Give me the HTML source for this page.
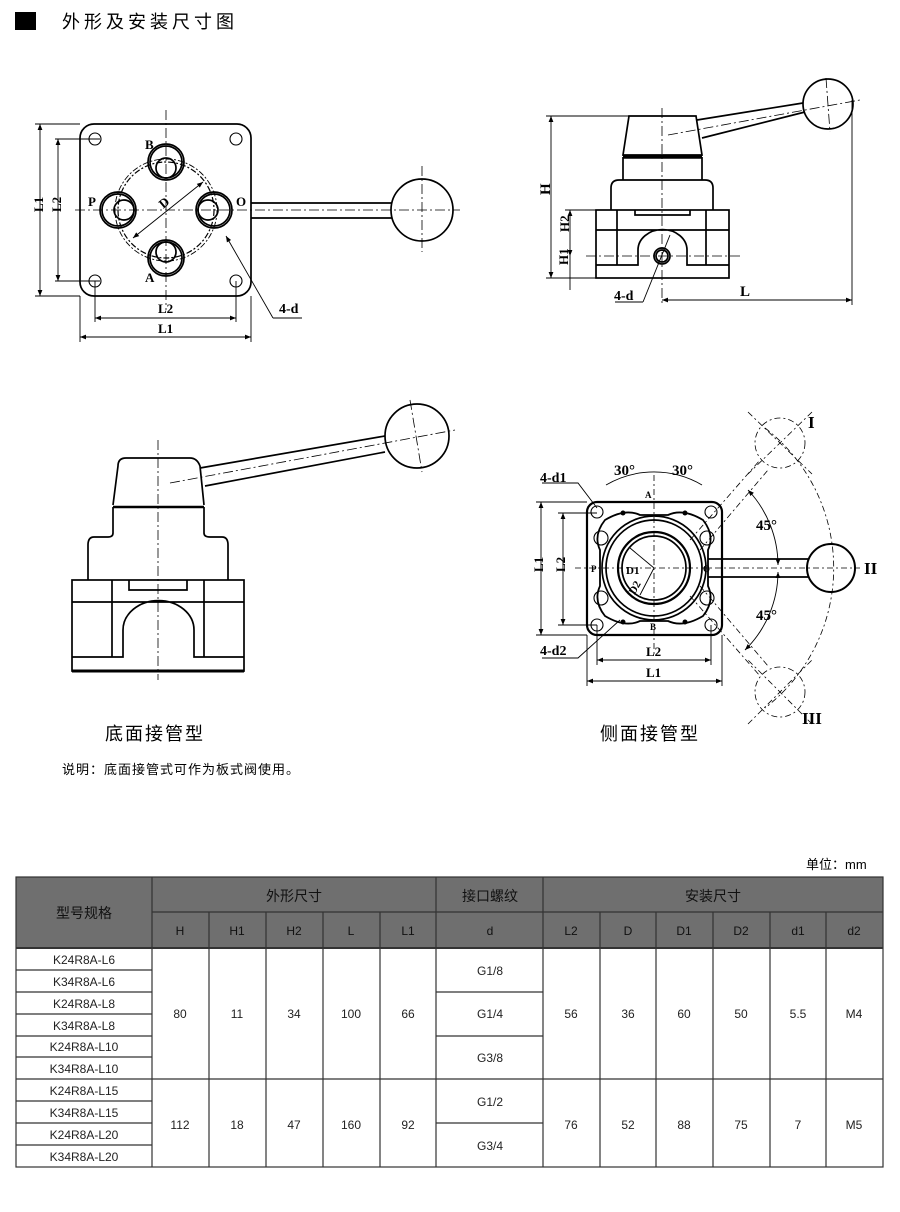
<!DOCTYPE html>
<html><head><meta charset="utf-8"><style>
body{margin:0;background:#fff;width:900px;height:1212px;overflow:hidden;font-family:"Liberation Sans","Noto Sans CJK SC",sans-serif}
svg{position:absolute;left:0;top:0}
</style></head><body>
<svg width="900" height="1212" viewBox="0 0 900 1212" xmlns="http://www.w3.org/2000/svg" font-family="Liberation Serif, Noto Serif CJK SC, serif">
<defs>
<marker id="a" viewBox="0 0 10 10" refX="10" refY="5" markerWidth="8" markerHeight="6" orient="auto-start-reverse" markerUnits="userSpaceOnUse"><path d="M0 1 L10 5 L0 9 Z" fill="#000"/></marker>
</defs>
<rect x="15" y="12" width="21" height="18" fill="#000"/>
<text x="62" y="28" font-family="Liberation Sans, Noto Sans CJK SC, sans-serif" font-size="18" letter-spacing="4">外形及安装尺寸图</text>

<g fill="none" stroke="#000" stroke-width="1.7">
<!-- Top-left plan -->
<rect x="80" y="124" width="171" height="172" rx="14"/>
<g stroke-width="1.1"><circle cx="95" cy="139" r="6"/><circle cx="236" cy="139" r="6"/><circle cx="95" cy="281" r="6"/><circle cx="236" cy="281" r="6"/></g>
<circle cx="166" cy="162" r="18"/><circle cx="166" cy="162" r="16"/><circle cx="166" cy="168" r="10"/>
<circle cx="166" cy="258" r="18"/><circle cx="166" cy="258" r="16"/><circle cx="166" cy="252" r="10"/>
<circle cx="118" cy="210" r="18"/><circle cx="118" cy="210" r="16"/><circle cx="124" cy="210" r="10"/>
<circle cx="214" cy="210" r="18"/><circle cx="214" cy="210" r="16"/><circle cx="208" cy="210" r="10"/>
<circle cx="166" cy="210" r="48" stroke-dasharray="6 2 2 2" stroke-width="1.2"/>
<circle cx="166" cy="210" r="51" stroke-dasharray="6 2 2 2" stroke-width="0.9"/>
<line x1="251" y1="203" x2="392" y2="203"/><line x1="251" y1="218" x2="392" y2="218"/>
<circle cx="422" cy="210" r="31"/>
<g stroke-width="0.8" stroke-dasharray="10 3 2 3"><line x1="75" y1="210" x2="460" y2="210"/><line x1="166" y1="110" x2="166" y2="310"/><line x1="422" y1="166" x2="422" y2="252"/></g>
<g stroke-width="0.9"><line x1="133" y1="238" x2="203" y2="182" marker-start="url(#a)" marker-end="url(#a)"/>
<line x1="35" y1="124" x2="80" y2="124"/><line x1="35" y1="296" x2="80" y2="296"/><line x1="40" y1="124" x2="40" y2="296" marker-start="url(#a)" marker-end="url(#a)"/>
<line x1="55" y1="139" x2="100" y2="139"/><line x1="55" y1="281" x2="100" y2="281"/><line x1="58" y1="139" x2="58" y2="281" marker-start="url(#a)" marker-end="url(#a)"/>
<line x1="95" y1="281" x2="95" y2="322"/><line x1="236" y1="281" x2="236" y2="322"/><line x1="95" y1="318" x2="236" y2="318" marker-start="url(#a)" marker-end="url(#a)"/>
<line x1="80" y1="296" x2="80" y2="342"/><line x1="251" y1="296" x2="251" y2="342"/><line x1="80" y1="337" x2="251" y2="337" marker-start="url(#a)" marker-end="url(#a)"/>
<polyline points="273,318 226,236" marker-end="url(#a)"/><line x1="273" y1="318" x2="302" y2="318"/></g>

<!-- Top-right side -->
<path d="M629 116 H696 L702 155 H623 Z"/>
<line x1="623" y1="157" x2="702" y2="157" stroke-width="3.5"/>
<path d="M623 157 V180 M702 157 V180"/>
<path d="M611 210 V188 Q611 180 619 180 H705 Q713 180 713 188 V210"/>
<rect x="596" y="210" width="133" height="68"/>
<path d="M596 230 H729 M617 210 V265 M706 210 V265 M596 265 H638 V250 A24 20 0 0 1 687 250 V265 H729"/>
<path d="M635 210 V215 H690 V210"/>
<circle cx="662" cy="256" r="8"/><circle cx="662" cy="256" r="6"/>
<path d="M697 120 L803 103 M702 138 L805 112"/>
<circle cx="828" cy="104" r="25"/>
<g stroke-width="0.8" stroke-dasharray="10 3 2 3"><line x1="662" y1="108" x2="662" y2="305"/><line x1="586" y1="256" x2="740" y2="256"/><line x1="668" y1="135" x2="860" y2="100"/><line x1="826" y1="78" x2="830" y2="132"/></g>
<g stroke-width="0.9"><line x1="546" y1="116" x2="629" y2="116"/><line x1="551" y1="116" x2="551" y2="278" marker-start="url(#a)" marker-end="url(#a)"/><line x1="546" y1="278" x2="596" y2="278"/>
<line x1="565" y1="210" x2="596" y2="210"/><line x1="570" y1="210" x2="570" y2="256" marker-start="url(#a)" marker-end="url(#a)"/><line x1="570" y1="256" x2="570" y2="290"/>
<line x1="662" y1="300" x2="852" y2="300" marker-start="url(#a)" marker-end="url(#a)"/><line x1="852" y1="100" x2="852" y2="305"/>
<polyline points="643,302 670,235"/><line x1="643" y1="302" x2="615" y2="302"/></g>

<!-- Bottom-left -->
<path d="M113 505 L118 466 Q118 458 126 458 H190 Q197 458 200 466 L204 505"/>
<line x1="113" y1="507" x2="204" y2="507" stroke-width="2.5"/>
<path d="M113 507 V533 Q113 537 108 537 H94 Q88 537 88 545 V580 M204 507 V533 Q204 537 210 537 H222 Q228 537 228 545 V580"/>
<rect x="72" y="580" width="172" height="91"/>
<path d="M72 602 H244 M112 580 V657 M204 580 V657 M72 657 H123 V630 A35 29 0 0 1 194 630 V657 H244 M129 580 V590 H187 V580"/>
<line x1="72" y1="671" x2="244" y2="671" stroke-width="3"/>
<path d="M200 468 L385 436 M205 486 L385 452"/>
<circle cx="417" cy="436" r="32"/>
<g stroke-width="0.8" stroke-dasharray="10 3 2 3"><line x1="158" y1="440" x2="158" y2="680"/><line x1="170" y1="483" x2="455" y2="430"/><line x1="410" y1="400" x2="422" y2="472"/></g>

<!-- Bottom-right -->
<rect x="587" y="502" width="135" height="133" rx="10" stroke-width="2.2"/>
<path d="M605 520 Q625 508 640 515 H668 Q683 508 703 520 Q715 535 708 550 V586 Q715 601 703 616 Q683 628 668 621 H640 Q625 628 605 616 Q593 601 600 586 V550 Q593 535 605 520 Z" stroke-width="1.8"/>
<circle cx="654" cy="568" r="52"/><circle cx="654" cy="568" r="48"/>
<circle cx="654" cy="568" r="36" stroke-width="2.2"/><circle cx="654" cy="568" r="32"/>
<g stroke-width="1.1"><circle cx="597" cy="512" r="6"/><circle cx="711" cy="512" r="6"/><circle cx="597" cy="625" r="6"/><circle cx="711" cy="625" r="6"/>
<circle cx="601" cy="538" r="7"/><circle cx="707" cy="538" r="7"/><circle cx="601" cy="598" r="7"/><circle cx="707" cy="598" r="7"/></g>
<g fill="#000" stroke="none"><circle cx="623" cy="513" r="2.5"/><circle cx="685" cy="513" r="2.5"/><circle cx="623" cy="622" r="2.5"/><circle cx="685" cy="622" r="2.5"/></g>
<path d="M708 559 H808 M708 577 H808"/>
<circle cx="831" cy="568" r="24" stroke-width="2"/>
<g stroke-width="0.8" stroke-dasharray="6 3 2 3">
<circle cx="780" cy="443" r="25"/><circle cx="780" cy="692" r="25"/>
<path d="M765 428 A177 177 0 0 1 765 708"/>
<line x1="690" y1="540" x2="760" y2="460"/><line x1="700" y1="550" x2="768" y2="470"/>
<line x1="690" y1="596" x2="760" y2="676"/><line x1="700" y1="586" x2="768" y2="666"/>
<line x1="575" y1="568" x2="860" y2="568"/><line x1="654" y1="475" x2="654" y2="655"/>
<line x1="748" y1="412" x2="812" y2="474"/><line x1="812" y1="412" x2="748" y2="474"/>
<line x1="748" y1="724" x2="812" y2="660"/><line x1="812" y1="724" x2="748" y2="660"/>
</g>
<g stroke-width="0.9"><path d="M606 485 A95 95 0 0 1 702 485"/>
<line x1="536" y1="502" x2="587" y2="502"/><line x1="536" y1="635" x2="587" y2="635"/><line x1="541" y1="502" x2="541" y2="635" marker-start="url(#a)" marker-end="url(#a)"/>
<line x1="558" y1="513" x2="597" y2="513"/><line x1="558" y1="625" x2="597" y2="625"/><line x1="563" y1="513" x2="563" y2="625" marker-start="url(#a)" marker-end="url(#a)"/>
<line x1="597" y1="625" x2="597" y2="665"/><line x1="711" y1="625" x2="711" y2="665"/><line x1="597" y1="660" x2="711" y2="660" marker-start="url(#a)" marker-end="url(#a)"/>
<line x1="587" y1="635" x2="587" y2="686"/><line x1="722" y1="635" x2="722" y2="686"/><line x1="587" y1="681" x2="722" y2="681" marker-start="url(#a)" marker-end="url(#a)"/>
<polyline points="542,483 578,483 597,508"/><polyline points="542,658 578,658 620,620"/>
<path d="M748 490 A110 110 0 0 1 778 565" marker-start="url(#a)" marker-end="url(#a)"/><path d="M778 572 A110 110 0 0 1 745 650" marker-start="url(#a)" marker-end="url(#a)"/>
<line x1="654" y1="568" x2="630" y2="548"/><line x1="654" y1="568" x2="640" y2="595"/></g>
</g>

<g font-weight="bold" font-size="13" fill="#000">
<text x="145" y="149">B</text><text x="145" y="282">A</text><text x="88" y="206">P</text><text x="236" y="206">O</text>
<text x="160" y="208" transform="rotate(-40 163 204)">D</text>
<text x="279" y="313" font-size="14">4-d</text>
<text x="39" y="216" transform="rotate(-90 39 212)">L1</text><text x="57" y="216" transform="rotate(-90 57 212)">L2</text>
<text x="158" y="313">L2</text><text x="158" y="333">L1</text>
<text x="548" y="203" font-size="15" transform="rotate(-90 545 198)">H</text>
<text x="567" y="240" transform="rotate(-90 564 235)">H2</text><text x="567" y="272" transform="rotate(-90 564 268)">H1</text>
<text x="614" y="300" font-size="14">4-d</text><text x="740" y="296" font-size="15">L</text>
<text x="540" y="482" font-size="14">4-d1</text><text x="540" y="655" font-size="14">4-d2</text>
<text x="614" y="475" font-size="15">30°</text><text x="672" y="475" font-size="15">30°</text>
<text x="756" y="530" font-size="15">45°</text><text x="756" y="620" font-size="15">45°</text>
<text x="808" y="428" font-size="17">I</text><text x="864" y="574" font-size="17">II</text><text x="802" y="724" font-size="17">III</text>
<text x="645" y="498" font-size="9">A</text><text x="650" y="630" font-size="9">B</text><text x="591" y="572" font-size="9">P</text><text x="703" y="572" font-size="9">O</text>
<text x="626" y="574" font-size="11">D1</text><text x="628" y="592" font-size="11" transform="rotate(-60 634 588)">D2</text>
<text x="537" y="578" transform="rotate(-90 537 572)">L1</text><text x="559" y="578" transform="rotate(-90 559 572)">L2</text>
<text x="646" y="656">L2</text><text x="646" y="677">L1</text>
</g>

<g font-family="Liberation Sans, Noto Sans CJK SC, sans-serif" fill="#000">
<text x="105" y="740" font-size="18" letter-spacing="2">底面接管型</text>
<text x="600" y="740" font-size="18" letter-spacing="2">侧面接管型</text>
<text x="62" y="774" font-size="13" letter-spacing="1">说明：底面接管式可作为板式阀使用。</text>
<text x="806" y="869" font-size="13">单位：mm</text>
</g>

<!-- Table -->
<g font-family="Liberation Sans, Noto Sans CJK SC, sans-serif" font-size="12" fill="#222" text-anchor="middle">
<rect x="16" y="877" width="867" height="71" fill="#6f6f6f"/>
<g stroke="#333" stroke-width="1.2" fill="none">
<line x1="152" y1="912" x2="883" y2="912"/>
<rect x="16" y="877" width="867" height="290"/>
<line x1="152" y1="877" x2="152" y2="1167"/><line x1="436" y1="877" x2="436" y2="1167"/><line x1="543" y1="877" x2="543" y2="1167"/>
<line x1="209" y1="912" x2="209" y2="1167"/><line x1="266" y1="912" x2="266" y2="1167"/><line x1="323" y1="912" x2="323" y2="1167"/><line x1="380" y1="912" x2="380" y2="1167"/>
<line x1="600" y1="912" x2="600" y2="1167"/><line x1="656" y1="912" x2="656" y2="1167"/><line x1="713" y1="912" x2="713" y2="1167"/><line x1="770" y1="912" x2="770" y2="1167"/><line x1="826" y1="912" x2="826" y2="1167"/>
<line x1="16" y1="948" x2="883" y2="948" stroke-width="2"/>
<line x1="16" y1="1079" x2="883" y2="1079"/>
<line x1="16" y1="970" x2="152" y2="970"/><line x1="16" y1="992" x2="152" y2="992"/><line x1="16" y1="1014" x2="152" y2="1014"/><line x1="16" y1="1036" x2="152" y2="1036"/><line x1="16" y1="1057" x2="152" y2="1057"/>
<line x1="16" y1="1101" x2="152" y2="1101"/><line x1="16" y1="1123" x2="152" y2="1123"/><line x1="16" y1="1145" x2="152" y2="1145"/>
<line x1="436" y1="992" x2="543" y2="992"/><line x1="436" y1="1036" x2="543" y2="1036"/><line x1="436" y1="1123" x2="543" y2="1123"/>
</g>
<g fill="#111" font-size="14"><text x="84" y="918">型号规格</text><text x="294" y="901">外形尺寸</text><text x="490" y="901">接口螺纹</text><text x="713" y="901">安装尺寸</text></g>
<g fill="#111"><text x="180" y="935">H</text><text x="237" y="935">H1</text><text x="294" y="935">H2</text><text x="351" y="935">L</text><text x="408" y="935">L1</text><text x="490" y="935">d</text>
<text x="571" y="935">L2</text><text x="628" y="935">D</text><text x="684" y="935">D1</text><text x="741" y="935">D2</text><text x="798" y="935">d1</text><text x="854" y="935">d2</text></g>
<text x="84" y="964">K24R8A-L6</text><text x="84" y="986">K34R8A-L6</text><text x="84" y="1008">K24R8A-L8</text><text x="84" y="1030">K34R8A-L8</text><text x="84" y="1051">K24R8A-L10</text><text x="84" y="1073">K34R8A-L10</text>
<text x="84" y="1095">K24R8A-L15</text><text x="84" y="1117">K34R8A-L15</text><text x="84" y="1139">K24R8A-L20</text><text x="84" y="1161">K34R8A-L20</text>
<text x="180" y="1018">80</text><text x="237" y="1018">11</text><text x="294" y="1018">34</text><text x="351" y="1018">100</text><text x="408" y="1018">66</text>
<text x="490" y="975">G1/8</text><text x="490" y="1018">G1/4</text><text x="490" y="1062">G3/8</text>
<text x="571" y="1018">56</text><text x="628" y="1018">36</text><text x="684" y="1018">60</text><text x="741" y="1018">50</text><text x="798" y="1018">5.5</text><text x="854" y="1018">M4</text>
<text x="180" y="1129">112</text><text x="237" y="1129">18</text><text x="294" y="1129">47</text><text x="351" y="1129">160</text><text x="408" y="1129">92</text>
<text x="490" y="1106">G1/2</text><text x="490" y="1150">G3/4</text>
<text x="571" y="1129">76</text><text x="628" y="1129">52</text><text x="684" y="1129">88</text><text x="741" y="1129">75</text><text x="798" y="1129">7</text><text x="854" y="1129">M5</text>
</g>
</svg>
</body></html>
